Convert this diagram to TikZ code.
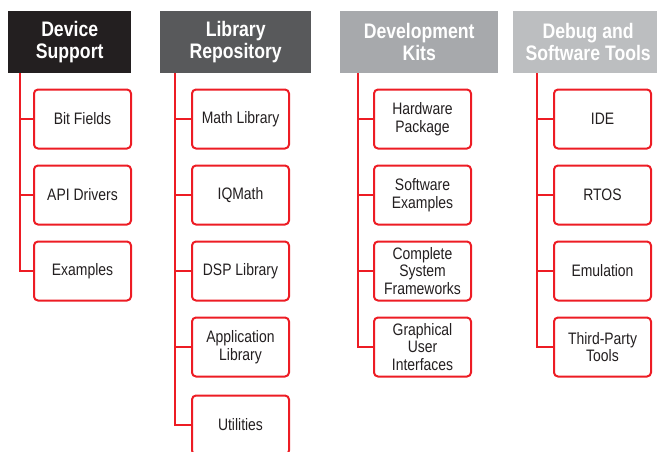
\documentclass[tikz,border=0pt]{standalone}
\usepackage{fontspec}
\setmainfont{Liberation Sans}[FakeStretch=0.84]
\definecolor{tired}{HTML}{ED1C24}
\definecolor{txtgray}{HTML}{231F20}
\definecolor{hdblack}{HTML}{231F20}
\definecolor{hddark}{HTML}{58595B}
\definecolor{hdmid}{HTML}{A7A9AC}
\definecolor{hdlight}{HTML}{BCBEC0}
\tikzset{
	head/.style={fill=#1, text=white, font=\fontsize{21}{22}\selectfont\bfseries, minimum height=62pt, inner sep=0pt, align=center, anchor=north west},
	item/.style={draw=tired, line width=2pt, rounded corners=4pt, fill=white, text=txtgray, minimum width=97pt, minimum height=59pt, inner sep=0pt, align=center, anchor=west, font=\fontsize{16.6}{17.7}\selectfont},
	link/.style={draw=tired, line width=2.4pt},
}
\begin{document}
\begin{tikzpicture}[x=1pt,y=-1pt]
			\useasboundingbox (0,0) rectangle (657,451);
			\clip (0,0) rectangle (657,451);
			% headers
			\node[head=hdblack, minimum width=123pt] (dev) at (8,11) {Device\\Support};
			\node[head=hddark, minimum width=151pt] (lib) at (160,11) {Library\\Repository};
			\node[head=hdmid, minimum width=158pt] (kit) at (340,11) {Development\\Kits};
			\node[head=hdlight, minimum width=150pt] (dbg) at (513,11) {Debug and\\Software Tools};
			% device support
			\node[item] (bits) at (33,119) {Bit Fields};
			\node[item] (api) at (33,195) {API Drivers};
			\node[item] (exa) at (33,271) {Examples};
			% library repository
			\node[item] (math) at (191,119) {Math Library};
			\node[item] (iqm) at (191,195) {IQMath};
			\node[item] (dsp) at (191,271) {DSP Library};
			\node[item] (app) at (191,347) {Application\\Library};
			\node[item] (util) at (191,425) {Utilities};
			% development kits
			\node[item] (hw) at (373,119) {Hardware\\Package};
			\node[item] (sw) at (373,195) {Software\\Examples};
			\node[item] (frm) at (373,271) {Complete\\System\\Frameworks};
			\node[item] (gui) at (373,347) {Graphical\\User\\Interfaces};
			% debug and software tools
			\node[item] (ide) at (553,119) {IDE};
			\node[item] (rtos) at (553,195) {RTOS};
			\node[item] (emu) at (553,271) {Emulation};
			\node[item] (third) at (553,347) {Third-Party\\Tools};
			% connectors
			\draw[link] ([xshift=12pt]dev.south west) |- (bits.west);
			\draw[link] ([xshift=12pt]dev.south west) |- (api.west);
			\draw[link] ([xshift=12pt]dev.south west) |- (exa.west);
			\draw[link] ([xshift=15pt]lib.south west) |- (math.west);
			\draw[link] ([xshift=15pt]lib.south west) |- (iqm.west);
			\draw[link] ([xshift=15pt]lib.south west) |- (dsp.west);
			\draw[link] ([xshift=15pt]lib.south west) |- (app.west);
			\draw[link] ([xshift=15pt]lib.south west) |- (util.west);
			\draw[link] ([xshift=18pt]kit.south west) |- (hw.west);
			\draw[link] ([xshift=18pt]kit.south west) |- (sw.west);
			\draw[link] ([xshift=18pt]kit.south west) |- (frm.west);
			\draw[link] ([xshift=18pt]kit.south west) |- (gui.west);
			\draw[link] ([xshift=24pt]dbg.south west) |- (ide.west);
			\draw[link] ([xshift=24pt]dbg.south west) |- (rtos.west);
			\draw[link] ([xshift=24pt]dbg.south west) |- (emu.west);
			\draw[link] ([xshift=24pt]dbg.south west) |- (third.west);
		\end{tikzpicture}
\end{document}
